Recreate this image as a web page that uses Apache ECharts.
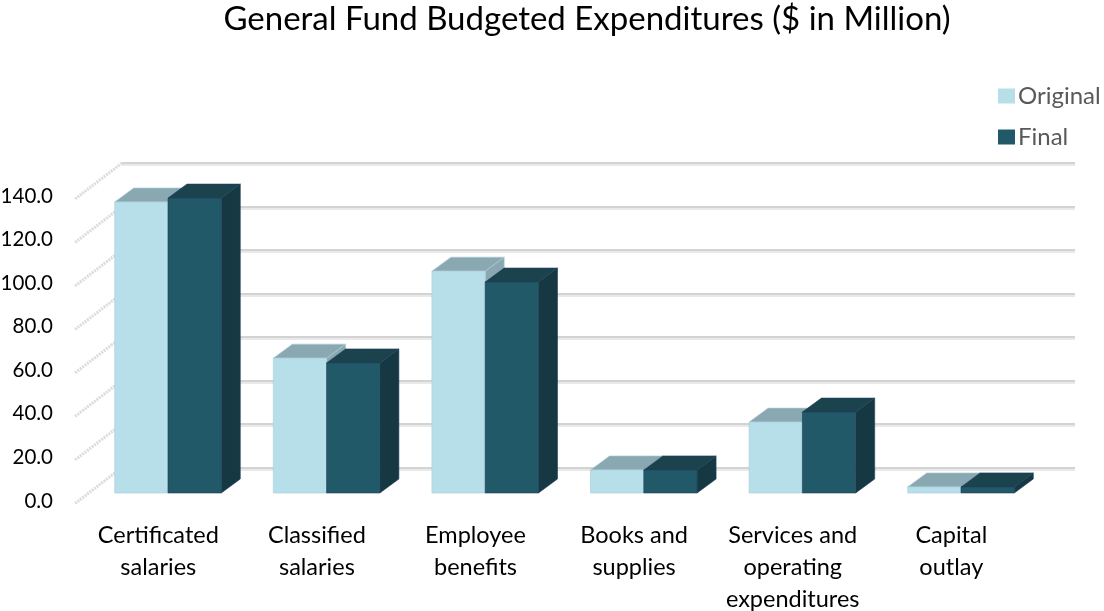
<!DOCTYPE html>
<html>
<head>
<meta charset="utf-8">
<style>html,body{margin:0;padding:0;background:#fff}#chart{width:1104px;height:611px}</style>
<script src="https://cdn.jsdelivr.net/npm/echarts@6/dist/echarts.min.js"></script>
</head>
<body>
<div id="chart"></div>
<script>
const categories = ['Certificated\nsalaries', 'Classified\nsalaries', 'Employee\nbenefits', 'Books and\nsupplies', 'Services and\noperating\nexpenditures', 'Capital\noutlay'];
const originalValues = [133.8, 62.0, 102.0, 10.6, 32.6, 2.8];
const finalValues = [135.6, 59.8, 97.0, 10.6, 37.2, 2.8];
const tickValues = [0, 20, 40, 60, 80, 100, 120, 140];

const FONT = 'Lato';
const TEXT = '#000000';
const BAR_SHARE = 0.336;   // bar width as a share of the category band
const DEPTH_X = 19, DEPTH_Y = 14;   // extrusion of each bar
const FLOOR_X = 47, FLOOR_Y = 36;   // extrusion of the floor

// One extruded bar: front face, lid and right side.
function barRenderer(slot, front, top, side, edge) {
  return function (params, api) {
    const cat = api.value(0);
    const val = api.value(1);
    const base = api.coord([cat, 0]);
    const head = api.coord([cat, val]);
    const w = api.size([1, 0])[0] * BAR_SHARE;
    const x0 = base[0] + slot * w;
    const x1 = x0 + w;
    const y0 = head[1];
    const y1 = base[1];
    const poly = (points, fill) => ({
      type: 'polygon',
      shape: { points },
      style: { fill, stroke: edge, lineWidth: 0.8 }
    });
    return {
      type: 'group',
      children: [
        poly([[x1, y0], [x1 + DEPTH_X, y0 - DEPTH_Y], [x1 + DEPTH_X, y1 - DEPTH_Y], [x1, y1]], side),
        poly([[x0, y0], [x0 + DEPTH_X, y0 - DEPTH_Y], [x1 + DEPTH_X, y0 - DEPTH_Y], [x1, y0]], top),
        poly([[x0, y0], [x1, y0], [x1, y1], [x0, y1]], front)
      ]
    };
  };
}

// Stippled side-wall line running from a back-wall gridline towards the viewer.
function sideWallRenderer(params, api) {
  const p = api.coord([0, api.value(0)]);
  return {
    type: 'line',
    shape: { x1: p[0], y1: p[1], x2: p[0] - FLOOR_X, y2: p[1] + FLOOR_Y },
    style: { stroke: '#dcdcdc', lineWidth: 3, lineDash: [2, 1] }
  };
}

const chart = echarts.init(document.getElementById('chart'), null, { renderer: 'canvas' });
chart.setOption({
  animation: false,
  backgroundColor: '#ffffff',
  title: {
    text: 'General Fund Budgeted Expenditures ($ in Million)',
    left: 587,
    top: 3,
    padding: 0,
    textAlign: 'center',
    textStyle: { fontFamily: FONT, fontSize: 33, fontWeight: 'normal', color: TEXT }
  },
  legend: {
    left: 998,
    top: 84,
    padding: 0,
    orient: 'vertical',
    itemWidth: 17,
    itemHeight: 15,
    itemGap: 17,
    icon: 'rect',
    data: ['Original', 'Final'],
    textStyle: { fontFamily: FONT, fontSize: 24, color: '#595959', padding: [0, 0, 0, -2] }
  },
  grid: [
    { left: 88.7, width: 951.6, top: 188.5, height: 304.5, outerBoundsMode: 'none' },  // bar plane
    { left: 79, width: 951.6, top: 196, height: 305, outerBoundsMode: 'none' },        // axis labels
    { left: 122, width: 953, top: 163, height: 304.5, outerBoundsMode: 'none' }        // back wall
  ],
  xAxis: [
    { gridIndex: 0, type: 'category', data: categories, show: false },
    {
      gridIndex: 1, type: 'category', data: categories,
      axisLine: { show: false }, axisTick: { show: false },
      axisLabel: {
        interval: 0, margin: 18, hideOverlap: false,
        fontFamily: FONT, fontSize: 23.5, lineHeight: 32, color: TEXT
      }
    },
    { gridIndex: 2, type: 'value', min: 0, max: 1, show: false }
  ],
  yAxis: [
    { gridIndex: 0, type: 'value', min: 0, max: 140, interval: 20, show: false },
    {
      gridIndex: 1, type: 'value', min: 0, max: 140, interval: 20,
      axisLine: { show: false }, axisTick: { show: false }, splitLine: { show: false },
      axisLabel: {
        margin: 26,
        formatter: v => v.toFixed(1),
        fontFamily: FONT, fontSize: 20.5, color: TEXT
      }
    },
    {
      gridIndex: 2, type: 'value', min: 0, max: 140, interval: 20,
      axisLine: { show: false }, axisTick: { show: false }, axisLabel: { show: false },
      splitLine: {
        show: true,
        lineStyle: { color: '#c4c4c4', width: 1.5, shadowColor: '#e2e2e2', shadowBlur: 0, shadowOffsetY: 2 }
      }
    }
  ],
  series: [
    {
      name: 'walls',
      type: 'custom',
      xAxisIndex: 2,
      yAxisIndex: 2,
      clip: false,
      silent: true,
      z: 1,
      data: tickValues.map(v => [v]),
      encode: { y: 0 },
      renderItem: sideWallRenderer
    },
    {
      name: 'Original',
      type: 'custom',
      xAxisIndex: 0,
      yAxisIndex: 0,
      clip: false,
      z: 3,
      itemStyle: { color: '#b7dfea' },
      encode: { x: 0, y: 1 },
      data: originalValues.map((v, i) => [i, v]),
      renderItem: barRenderer(-1, '#b7dfea', '#8aa8b1', '#8aa8b1', 'rgba(170,205,218,0.8)')
    },
    {
      name: 'Final',
      type: 'custom',
      xAxisIndex: 0,
      yAxisIndex: 0,
      clip: false,
      z: 4,
      itemStyle: { color: '#215968' },
      encode: { x: 0, y: 1 },
      data: finalValues.map((v, i) => [i, v]),
      renderItem: barRenderer(0, '#215968', '#1a434e', '#163842', 'rgba(34,62,92,0.75)')
    }
  ]
});
</script>
</body>
</html>
